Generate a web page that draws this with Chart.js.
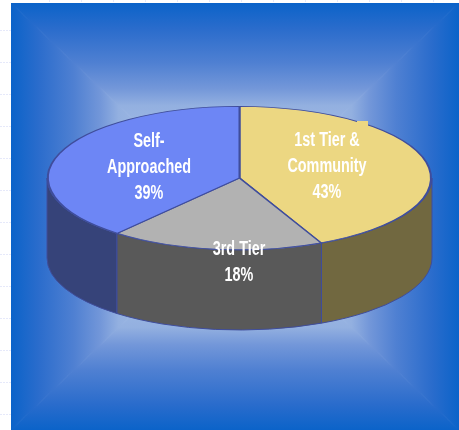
<!DOCTYPE html>
<html>
<head>
<meta charset="utf-8">
<title>Referral sources</title>
<script src="https://cdn.jsdelivr.net/npm/chart.js@4/dist/chart.umd.min.js"></script>
<style>
  html, body { margin: 0; padding: 0; background: #fff; }
  #wrap { width: 459px; height: 430px; position: relative; overflow: hidden; }
</style>
</head>
<body>
<div id="wrap"><canvas id="chart" width="459" height="430"></canvas></div>
<script>
const categories = [["1st Tier &", "Community"], ["3rd Tier"], ["Self-", "Approached"]];
const shares = [43, 18, 39];
const topColors = ["#ecd782", "#b2b2b2", "#6d86f5"];
const wallColors = ["#716840", "#595959", "#364379"];

// where each label block starts, and the tilted disc geometry
const labelSpots = [[327, 140], [239, 249], [149, 141]];
const disc = { cx: 239.5, cy: 178, rx: 192.5, ry: 72, depth: 80 };
const edgeColor = "#3f4d9c";

// rectangular "from centre" fill behind the pie, four triangles meeting in the middle
const backdrop = {
  id: "backdrop",
  beforeDraw(chart) {
    const ctx = chart.ctx;
    const L = 11, T = 3, R = 459, B = 430;
    const mx = (L + R) / 2, my = (T + B) / 2;
    const stops = (g) => {
      g.addColorStop(0, "#0b63c9");
      g.addColorStop(0.12, "#2a6ccc");
      g.addColorStop(0.28, "#4f80d2");
      g.addColorStop(0.4, "#7397d9");
      g.addColorStop(0.48, "#93b0e0");
      g.addColorStop(1, "#c0d2ef");
      return g;
    };
    const tri = (x1, y1, x2, y2, gx, gy) => {
      ctx.beginPath();
      ctx.moveTo(mx, my);
      ctx.lineTo(x1, y1);
      ctx.lineTo(x2, y2);
      ctx.closePath();
      const g = stops(ctx.createLinearGradient(gx, gy, mx, my));
      ctx.fillStyle = g;
      ctx.strokeStyle = g;
      ctx.fill();
      ctx.stroke();  // hides the hairline seam between neighbours
    };
    ctx.save();
    ctx.beginPath();
    ctx.rect(L, T, R - L, B - T);
    ctx.clip();
    ctx.lineWidth = 1;
    tri(L, T, R, T, mx, T);
    tri(R, T, R, B, R, my);
    tri(R, B, L, B, mx, B);
    tri(L, B, L, T, L, my);
    ctx.restore();

    // faint sheet gridlines showing in the white margin
    ctx.save();
    ctx.strokeStyle = "#e6e9fa";
    ctx.lineWidth = 1;
    ctx.setLineDash([2, 1]);
    ctx.beginPath();
    for (let y = 30; y < 430; y += 32) { ctx.moveTo(0, y + 0.5); ctx.lineTo(11, y + 0.5); }
    for (let x = 49; x < 459; x += 32) { ctx.moveTo(x + 0.5, 0); ctx.lineTo(x + 0.5, 3); }
    ctx.stroke();
    ctx.restore();
  }
};

// squash the chart's own arcs into an ellipse and extrude them downward
const tilt = {
  id: "tilt",
  beforeDatasetsDraw(chart) {
    const ctx = chart.ctx;
    const arcs = chart.getDatasetMeta(0).data;
    const { x, y } = arcs[0];
    const k = disc.ry / disc.rx;

    // side wall: only the part of each slice facing the viewer (angle 0..PI on canvas)
    arcs.forEach((arc, i) => {
      const from = Math.max(arc.startAngle, 0);
      const to = Math.min(arc.endAngle, Math.PI);
      if (to <= from) return;
      ctx.save();
      ctx.beginPath();
      ctx.ellipse(disc.cx, disc.cy, disc.rx, disc.ry, 0, from, to);
      ctx.ellipse(disc.cx, disc.cy + disc.depth, disc.rx, disc.ry, 0, to, from, true);
      ctx.closePath();
      ctx.fillStyle = wallColors[i];
      ctx.strokeStyle = edgeColor;
      ctx.lineWidth = 1;
      ctx.fill();
      ctx.stroke();
      ctx.restore();
    });

    // top face goes through the normal arc drawing, under this transform
    ctx.save();
    ctx.translate(disc.cx, disc.cy);
    ctx.scale(1, k);
    ctx.translate(-x, -y);
  },
  afterDatasetsDraw(chart) {
    const ctx = chart.ctx;
    ctx.restore();
    // small squared-off nick on the rim of the yellow slice
    ctx.fillStyle = topColors[0];
    ctx.fillRect(357, 121, 11, 6);
  }
};

const labels3d = {
  id: "labels3d",
  afterDraw(chart) {
    const ctx = chart.ctx;
    ctx.save();
    ctx.fillStyle = "#fff";
    ctx.font = "bold 20px 'Liberation Sans', sans-serif";
    ctx.textAlign = "center";
    ctx.textBaseline = "middle";
    categories.forEach((lines, i) => {
      const rows = lines.concat(shares[i] + "%");
      rows.forEach((row, r) => {
        // condensed lettering: narrow the glyphs horizontally
        ctx.save();
        ctx.translate(labelSpots[i][0], labelSpots[i][1] + r * 26);
        ctx.scale(0.72, 1);
        ctx.fillText(row, 0, 0);
        ctx.restore();
      });
    });
    ctx.restore();
  }
};

new Chart(document.getElementById("chart"), {
  type: "pie",
  data: {
    labels: categories.map((c) => c.join(" ")),
    datasets: [{
      data: shares,
      backgroundColor: topColors,
      borderColor: edgeColor,
      borderWidth: 2,
      borderAlign: "center"
    }]
  },
  options: {
    responsive: false,
    animation: false,
    layout: { padding: { left: 47, right: 27, top: 22, bottom: 23 } },
    plugins: { legend: { display: false }, tooltip: { enabled: false } }
  },
  plugins: [backdrop, tilt, labels3d]
});
</script>
</body>
</html>
